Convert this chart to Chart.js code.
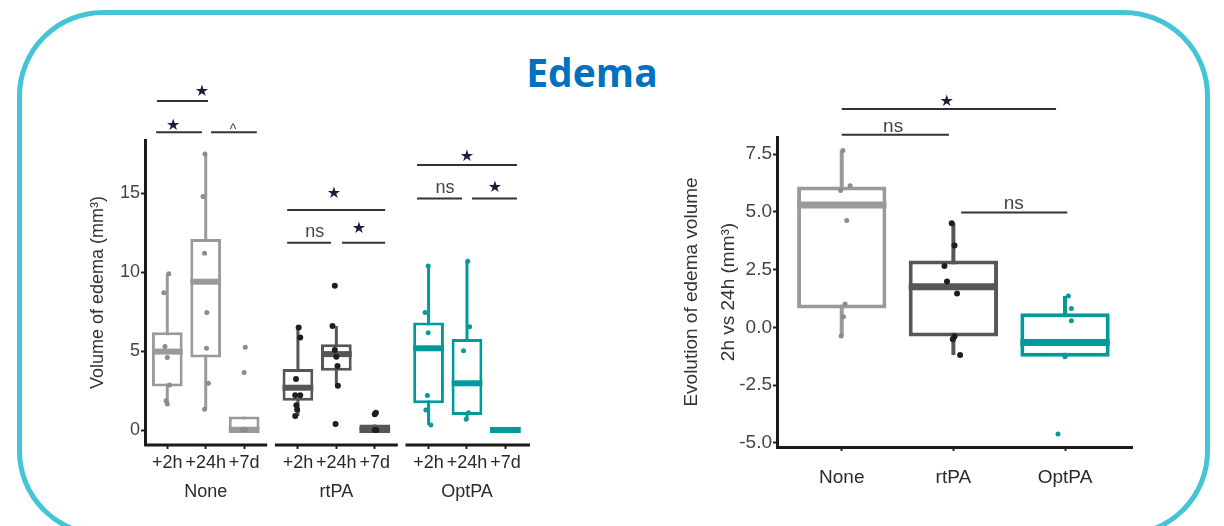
<!DOCTYPE html>
<html>
<head>
<meta charset="utf-8">
<script src="https://cdn.jsdelivr.net/npm/chart.js@4"></script>
<style>
  html, body { margin: 0; padding: 0; background: #fff; }
  body { width: 1224px; height: 526px; position: relative; overflow: hidden; }
  .frame { position: absolute; left: 17px; top: 10px; width: 1193px; height: 527px; box-sizing: border-box;
           border: 5px solid #45c4d6; border-radius: 86px; }
  h1 { position: absolute; left: 0; top: 52px; width: 1184px; margin: 0; text-align: center;
       font: bold 39px/39px 'Open Sans', sans-serif; color: #0070c0; }
  #left { position: absolute; left: 0; top: 0; }
  #right { position: absolute; left: 600px; top: 0; }
</style>
</head>
<body>
<div class="frame"></div>
<h1>Edema</h1>
<canvas id="left" width="560" height="526"></canvas>
<canvas id="right" width="600" height="526"></canvas>
<script>
const timeLabels = ['+2h', '+24h', '+7d'];
const groupLabels = ['None', 'rtPA', 'OptPA'];
const groupColors = ['#9a9a9a', '#565656', '#009a9a'];
const pointColors = ['#8c8c8c', '#1e1e1e', '#0a9a9a'];

// left panel: volume of edema, None / rtPA / OptPA at +2h, +24h, +7d
const volPos = [0, 1, 2, 3.4, 4.4, 5.4, 6.8, 7.8, 8.8];
const volPanels = [[-0.6, 2.6], [2.8, 6.0], [6.2, 9.44]];
const volTicks = [0, 5, 10, 15];
const volLow = [1.65, 1.31, 0, 0.89, 2.81, 0, 0.32, 0.68, 0];
const volQ1 = [2.75, 4.6, 0, 1.86, 3.76, 0, 1.69, 0.95, 0];
const volMed = [4.97, 9.4, 0, 2.68, 4.81, 0, 5.18, 2.96, 0];
const volQ3 = [6.2, 12.1, 0.85, 3.86, 5.43, 0.35, 6.82, 5.77, 0];
const volHigh = [9.9, 17.5, 0.85, 6.5, 6.59, 0.35, 10.4, 10.7, 0];
const volPoints = [
  [9.9, 8.7, 5.3, 4.6, 2.85, 1.86, 1.65],
  [17.5, 14.8, 11.2, 7.44, 5.18, 2.96, 1.31],
  [5.24, 3.64, 0, 0],
  [6.5, 5.87, 3.23, 2.2, 2.2, 1.57, 1.29, 0.89],
  [9.15, 6.59, 5.07, 4.65, 4.06, 2.81, 0.38],
  [1.1, 1.0, 0, 0],
  [10.4, 7.44, 6.17, 2.18, 1.27, 0.32],
  [10.7, 6.55, 5.03, 1.1, 0.68],
  [0, 0, 0]
];
const volJitter = [
  [0.04, -0.09, -0.06, 0, 0.06, -0.03, 0],
  [-0.02, -0.07, -0.03, 0.03, 0.02, 0.07, -0.03],
  [0.03, 0, -0.05, 0.05],
  [0.02, 0.06, -0.05, -0.07, 0.06, -0.04, -0.02, -0.07],
  [-0.04, -0.1, -0.04, 0, 0.03, 0.04, -0.02],
  [0.03, 0, 0, 0.04],
  [-0.01, -0.09, -0.01, -0.03, -0.07, 0.06],
  [0.02, 0.07, -0.09, 0.04, -0.02],
  [-0.05, 0, 0.05]
];
const volBrackets = [
  { from: -0.27, to: 1.06, y: 20.85, label: '*', lx: 0.9, ly: 21.55 },
  { from: -0.29, to: 0.9, y: 18.87, label: '*', lx: 0.15, ly: 19.39 },
  { from: 1.14, to: 2.33, y: 18.87, label: '^', lx: 1.71, ly: 19.2 },
  { from: 3.12, to: 5.67, y: 13.94, label: '*', lx: 4.34, ly: 15.1 },
  { from: 3.12, to: 4.26, y: 11.87, label: 'ns', lx: 3.84, ly: 12.5 },
  { from: 4.55, to: 5.67, y: 11.87, label: '*', lx: 4.99, ly: 12.82 },
  { from: 6.5, to: 9.1, y: 16.79, label: '*', lx: 7.8, ly: 17.43 },
  { from: 6.5, to: 7.67, y: 14.68, label: 'ns', lx: 7.23, ly: 15.32 },
  { from: 7.93, to: 9.1, y: 14.68, label: '*', lx: 8.53, ly: 15.46 }
];

// right panel: evolution 2h vs 24h
const evoPos = [1, 2, 3];
const evoTicks = [-5, -2.5, 0, 2.5, 5, 7.5];
const evoLow = [-0.38, -1.2, -1.27];
const evoQ1 = [0.82, -0.4, -1.27];
const evoMed = [5.3, 1.76, -0.66];
const evoQ3 = [6.1, 2.89, 0.61];
const evoHigh = [7.66, 4.51, 1.36];
const evoPoints = [
  [7.66, 6.13, 5.92, 4.62, 1.01, 0.46, -0.38],
  [4.51, 3.54, 2.66, 1.98, 1.47, -0.4, -0.52, -1.2],
  [1.36, 0.82, 0.29, -1.27, -4.62]
];
const evoJitter = [
  [0.01, 0.075, -0.01, 0.045, 0.03, 0.015, -0.005],
  [-0.015, 0.01, -0.08, -0.057, 0.033, 0.01, -0.005, 0.06],
  [0.03, 0.057, 0.057, 0, -0.063]
];
const evoBrackets = [
  { from: 1.0, to: 2.92, y: 9.45, label: '*', lx: 1.94, ly: 9.85 },
  { from: 1.0, to: 1.96, y: 8.34, label: 'ns', lx: 1.46, ly: 8.67 },
  { from: 2.07, to: 3.02, y: 4.97, label: 'ns', lx: 2.54, ly: 5.33 }
];

Chart.defaults.font.family = "'Liberation Sans', Arial, Helvetica, sans-serif";
Chart.defaults.color = '#333';

// facet axis pieces + significance brackets
const annotate = {
  id: 'annotate',
  afterDraw(chart, args, opts) {
    const { ctx, chartArea } = chart;
    const x = chart.scales.x, y = chart.scales.y;
    ctx.save();
    (opts.segments || []).forEach(([a, b]) => {
      ctx.strokeStyle = '#1a1a1a';
      ctx.lineWidth = 3;
      ctx.beginPath();
      ctx.moveTo(x.getPixelForValue(a), chartArea.bottom);
      ctx.lineTo(x.getPixelForValue(b), chartArea.bottom);
      ctx.stroke();
    });
    (opts.brackets || []).forEach(b => {
      const py = y.getPixelForValue(b.y);
      ctx.strokeStyle = '#333';
      ctx.lineWidth = 2;
      ctx.beginPath();
      ctx.moveTo(x.getPixelForValue(b.from), py);
      ctx.lineTo(x.getPixelForValue(b.to), py);
      ctx.stroke();
      const star = b.label === '*';
      const caret = b.label === '^';
      ctx.textAlign = 'center';
      ctx.textBaseline = 'alphabetic';
      let size, k;
      if (star) {
        size = opts.starSize; k = 0.36;
        ctx.font = size + "px 'DejaVu Sans', sans-serif";
        ctx.fillStyle = '#1b1d3a';
      } else {
        size = caret ? 14 : opts.textSize; k = caret ? 0.5 : 0.26;
        ctx.font = size + "px 'Liberation Sans', Arial, sans-serif";
        ctx.fillStyle = '#444';
      }
      ctx.fillText(star ? '★' : b.label, x.getPixelForValue(b.lx), y.getPixelForValue(b.ly) + k * size);
    });
    ctx.restore();
  }
};

function boxSets(pos, lo, q1, med, q3, hi, pts, jit, groupOf, boxW, lw, medW, radius) {
  const sets = [{
    type: 'bar', order: 3,
    data: pos.map((p, i) => ({ x: p, y: [q1[i], q3[i]] })),
    backgroundColor: '#fff',
    borderColor: pos.map((p, i) => groupColors[groupOf(i)]),
    borderWidth: lw, borderSkipped: false,
    barPercentage: boxW, categoryPercentage: 1, grouped: false
  }];
  pos.forEach((p, i) => {
    const g = groupOf(i);
    // whisker
    sets.push({ type: 'line', order: 4, data: [{ x: p, y: lo[i] }, { x: p, y: hi[i] }],
      borderColor: groupColors[g], borderWidth: lw, pointRadius: 0 });
    // median
    sets.push({ type: 'line', order: 2, data: [{ x: p - boxW / 2, y: med[i] }, { x: p + boxW / 2, y: med[i] }],
      borderColor: groupColors[g], borderWidth: medW, pointRadius: 0 });
    sets.push({ type: 'scatter', order: 1, data: pts[i].map((v, j) => ({ x: p + jit[i][j], y: v })),
      backgroundColor: pointColors[g], pointRadius: radius[g], pointBorderWidth: 0 });
  });
  return sets;
}

const tickGrid = { drawOnChartArea: false, offset: false, tickLength: 4, tickWidth: 2, tickColor: '#222' };

new Chart(document.getElementById('left'), {
  type: 'bar',
  data: {
    datasets: boxSets(volPos, volLow, volQ1, volMed, volQ3, volHigh, volPoints, volJitter,
      i => Math.floor(i / 3), 0.8, 3, 6, [2.5, 3, 2.5])
  },
  options: {
    responsive: false, animation: false, events: [],
    layout: { padding: { top: 140, right: 30, bottom: 0, left: 0 } },
    plugins: {
      legend: { display: false }, tooltip: { enabled: false },
      annotate: { segments: volPanels, brackets: volBrackets, starSize: 16, textSize: 18 }
    },
    scales: {
      x: {
        type: 'linear', min: -0.58, max: 9.44, offset: false,
        border: { display: false },
        grid: tickGrid,
        afterBuildTicks: s => { s.ticks = volPos.map(v => ({ value: v })); },
        afterFit: s => { s.height = 81; },
        ticks: {
          autoSkip: false, maxRotation: 0, padding: 0, color: '#2a2a2a',
          font: { size: 18, lineHeight: 1.6 },
          callback: (v, i) => i % 3 === 1 ? [timeLabels[1], groupLabels[Math.floor(i / 3)]] : timeLabels[i % 3]
        }
      },
      y: {
        min: -0.95, max: 18.38,
        border: { color: '#1a1a1a', width: 3 },
        grid: tickGrid,
        afterBuildTicks: s => { s.ticks = volTicks.map(v => ({ value: v })); },
        afterFit: s => { s.width = 145; },
        ticks: { padding: 1, color: '#444', font: { size: 18 } },
        title: { display: true, text: 'Volume of edema (mm³)', color: '#333',
                 font: { size: 18 }, padding: { top: 87, bottom: 0 } }
      }
    }
  },
  plugins: [annotate]
});

new Chart(document.getElementById('right'), {
  type: 'bar',
  data: {
    datasets: boxSets(evoPos, evoLow, evoQ1, evoMed, evoQ3, evoHigh, evoPoints, evoJitter,
      i => i, 0.8, 4, 7, [2.5, 3, 2.5])
  },
  options: {
    responsive: false, animation: false, events: [],
    layout: { padding: { top: 137, right: 68, bottom: 0, left: 0 } },
    plugins: {
      legend: { display: false }, tooltip: { enabled: false },
      annotate: { brackets: evoBrackets, starSize: 16, textSize: 19 }
    },
    scales: {
      x: {
        type: 'linear', min: 0.42, max: 3.6, offset: false,
        border: { color: '#1a1a1a', width: 3 },
        grid: tickGrid,
        afterBuildTicks: s => { s.ticks = evoPos.map(v => ({ value: v })); },
        afterFit: s => { s.height = 79; },
        ticks: { autoSkip: false, maxRotation: 0, padding: 15, color: '#2a2a2a',
                 font: { size: 19 }, callback: (v, i) => groupLabels[i] }
      },
      y: {
        min: -5.18, max: 8.24,
        border: { color: '#1a1a1a', width: 3 },
        grid: tickGrid,
        afterBuildTicks: s => { s.ticks = evoTicks.map(v => ({ value: v })); },
        afterFit: s => { s.width = 177; },
        ticks: { padding: 1, color: '#444', font: { size: 19 }, callback: v => v.toFixed(1) },
        title: { display: true, text: ['Evolution of edema volume', '2h vs 24h (mm³)'], color: '#333',
                 font: { size: 19, lineHeight: 1.95 }, padding: { top: 73, bottom: 0 } }
      }
    }
  },
  plugins: [annotate]
});
</script>
</body>
</html>
